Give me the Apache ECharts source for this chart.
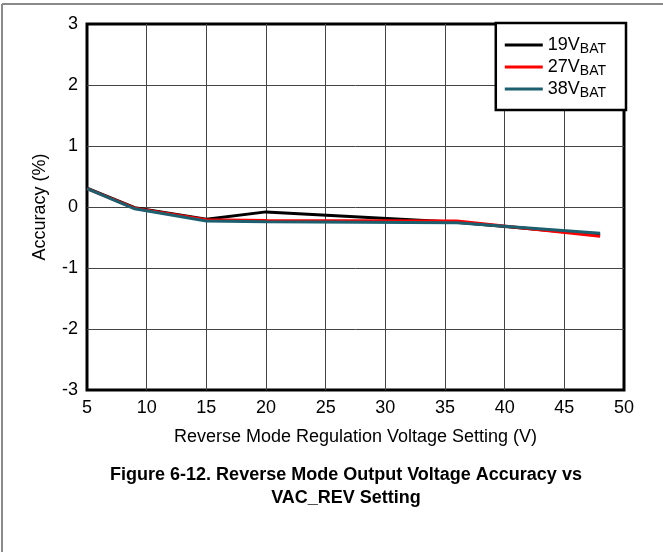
<!DOCTYPE html>
<html>
<head>
<meta charset="utf-8">
<script src="https://cdn.jsdelivr.net/npm/echarts@6/dist/echarts.min.js"></script>
<style>
  html, body { margin: 0; padding: 0; background: #fff; }
  #chart { width: 663px; height: 552px; }
</style>
</head>
<body>
<div id="chart"></div>
<script>
// reverse mode regulation voltage setting (V)
const vacRev = [5, 9, 15, 20, 36, 48]
// accuracy (%) per battery voltage
const acc19 = [0.31, -0.01, -0.20, -0.08, -0.25, -0.46]
const acc27 = [0.30, -0.02, -0.21, -0.22, -0.23, -0.48]
const acc38 = [0.30, -0.03, -0.23, -0.24, -0.26, -0.43]
const seriesNames = ['19V', '27V', '38V']
const seriesColors = ['#000000', '#ff0000', '#1c5f6e']
const xTicks = { min: 5, max: 50, step: 5 }
const yTicks = { min: -3, max: 3, step: 1 }

const font = "'Liberation Sans', Arial, sans-serif"

function pairs(values) {
  return vacRev.map((x, i) => [x, values[i]])
}

const chart = echarts.init(document.getElementById('chart'), null, { renderer: 'canvas' })

chart.setOption({
  animation: false,
  backgroundColor: '#ffffff',
  textStyle: { fontFamily: font },
  title: {
    text: 'Figure 6-12. Reverse Mode Output Voltage Accuracy vs\nVAC_REV Setting',
    left: 341,
    textAlign: 'center',
    top: 459,
    textStyle: {
      fontFamily: font,
      fontSize: 18,
      fontWeight: 'bold',
      color: '#000',
      lineHeight: 23,
      align: 'center'
    }
  },
  graphic: [
    { type: 'line', shape: { x1: 2, y1: 4, x2: 663, y2: 4 }, style: { stroke: '#8a8a8a', lineWidth: 2 } },
    { type: 'line', shape: { x1: 2, y1: 4, x2: 2, y2: 552 }, style: { stroke: '#8a8a8a', lineWidth: 2 } }
  ],
  legend: {
    orient: 'vertical',
    right: 37,
    top: 23,
    padding: [13, 20, 10, 9],
    itemGap: 2,
    itemWidth: 38,
    itemHeight: 3,
    icon: 'rect',
    backgroundColor: '#ffffff',
    borderColor: '#000000',
    borderWidth: 2.5,
    borderRadius: 0,
    data: seriesNames,
    formatter: (name) => `{m|${name}}{s|BAT}`,
    textStyle: {
      color: '#000',
      rich: {
        m: { fontFamily: font, fontSize: 18, color: '#000' },
        s: { fontFamily: font, fontSize: 14, color: '#000', padding: [8, 0, 0, 0], verticalAlign: 'bottom' }
      }
    }
  },
  grid: {
    left: 87,
    right: 39,
    top: 24,
    bottom: 162,
    show: true,
    borderColor: '#000',
    borderWidth: 3,
    backgroundColor: 'transparent'
  },
  xAxis: {
    type: 'value',
    min: xTicks.min,
    max: xTicks.max,
    interval: xTicks.step,
    name: 'Reverse Mode Regulation Voltage Setting (V)',
    nameLocation: 'middle',
    nameGap: 38,
    nameTextStyle: { fontFamily: font, fontSize: 18, color: '#000' },
    axisLine: { show: false },
    axisTick: { show: false },
    axisLabel: { fontFamily: font, fontSize: 18, color: '#000', margin: 9 },
    splitLine: { show: true, showMinLine: false, showMaxLine: false, lineStyle: { color: '#444', width: 1 } }
  },
  yAxis: {
    type: 'value',
    min: yTicks.min,
    max: yTicks.max,
    interval: yTicks.step,
    name: 'Accuracy (%)',
    nameLocation: 'middle',
    nameGap: 38,
    nameTextStyle: { fontFamily: font, fontSize: 18, color: '#000' },
    axisLine: { show: false },
    axisTick: { show: false },
    axisLabel: { fontFamily: font, fontSize: 18, color: '#000', margin: 9 },
    splitLine: { show: true, showMinLine: false, showMaxLine: false, lineStyle: { color: '#444', width: 1 } }
  },
  series: [acc19, acc27, acc38].map((values, i) => ({
    name: seriesNames[i],
    type: 'line',
    data: pairs(values),
    showSymbol: false,
    symbol: 'none',
    lineStyle: { width: 3, color: seriesColors[i] },
    itemStyle: { color: seriesColors[i] },
    z: 2 + i
  }))
})
</script>
</body>
</html>
